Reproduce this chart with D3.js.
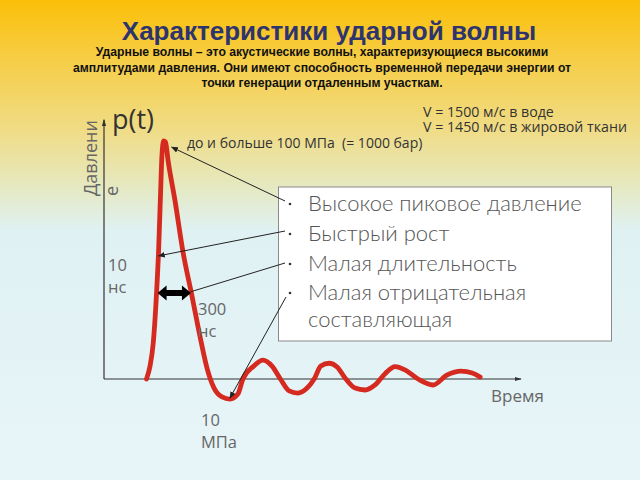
<!DOCTYPE html>
<html>
<head>
<meta charset="utf-8">
<script src="https://cdn.jsdelivr.net/npm/d3@7"></script>
<style>
  body { margin: 0; }
  svg { display: block; }
</style>
</head>
<body>
<div id="chart"></div>
<script>
// Chart content
var titleText = "Характеристики ударной волны";
var subtitleLines = [
  "Ударные волны – это акустические волны, характеризующиеся высокими",
  "амплитудами давления. Они имеют способность временной передачи энергии от",
  "точки генерации отдаленным участкам."
];
var bulletItems = [
  ["Высокое пиковое давление"],
  ["Быстрый рост"],
  ["Малая длительность"],
  ["Малая отрицательная", "составляющая"]
];
var speedLines = ["V = 1500 м/с в воде", "V = 1450 м/с в жировой ткани"];

// Pressure pulse p(t) (arbitrary units, peak = 100)
var timeValues = [10.2, 11.0, 11.8, 12.6, 13.1, 13.55, 13.9, 14.3, 14.75, 15.35, 17.0, 19.0, 21.0, 23.0, 24.7, 26.4, 28.3, 30.2,
                  32.1, 33.3, 35.9, 38.1, 40.3, 42.3, 44.4, 46.5, 48.7, 50.4, 52.0, 54.0, 55.9, 58.0, 60.2, 62.6,
                  65.0, 67.4, 69.8, 72.2, 75.3, 78.9, 82.3, 85.6, 88.3, 90.2];
var pressureValues = [0, 5.1, 14.9, 35.9, 54, 77, 93.7, 99.6, 99.2, 91.6, 74.9, 52.6, 35.6, 18, 4.6, -3.8, -7.5, -8.4,
                      -6.3, 0, 5.4, 7.9, 5.4, 0, -5, -5.9, -3.8, 0, 5.4, 6.6, 5, 0, -3.8, -4.6,
                      -2.5, 2.2, 5.2, 3.8, 0, -2.5, 1.7, 3.3, 2.5, 0.8];

var width = 640, height = 480;

var svg = d3.select("#chart")
  .append("svg")
  .attr("width", width)
  .attr("height", height);

// Background gradient (orange-yellow top to light blue bottom)
var defs = svg.append("defs");
var grad = defs.append("linearGradient")
  .attr("id", "bg")
  .attr("x1", 0).attr("y1", 0).attr("x2", 0).attr("y2", 1);
[[0, "#fbbf08"], [0.12, "#f6cd44"], [0.27, "#f0dc86"], [0.38, "#e6e8bc"], [0.48, "#dff1f3"], [1, "#e8f5f8"]]
  .forEach(function(s) {
    grad.append("stop").attr("offset", s[0]).attr("stop-color", s[1]);
  });
svg.append("rect").attr("width", width).attr("height", height).attr("fill", "url(#bg)");

// arrow markers
defs.append("marker")
  .attr("id", "thinArrow")
  .attr("viewBox", "0 0 10 10")
  .attr("refX", 9).attr("refY", 5)
  .attr("markerWidth", 7).attr("markerHeight", 7)
  .attr("markerUnits", "userSpaceOnUse")
  .attr("orient", "auto")
  .append("path").attr("d", "M0,1 L10,5 L0,9 Z").attr("fill", "#222");

defs.append("marker")
  .attr("id", "axisArrow")
  .attr("viewBox", "0 0 10 10")
  .attr("refX", 9).attr("refY", 5)
  .attr("markerWidth", 7).attr("markerHeight", 7)
  .attr("markerUnits", "userSpaceOnUse")
  .attr("orient", "auto")
  .append("path").attr("d", "M0,2 L10,5 L0,8 Z").attr("fill", "#333");

// Title + subtitle
svg.append("text")
  .attr("x", 329)
  .attr("y", 40)
  .attr("text-anchor", "middle")
  .style("font", "bold 26px 'Liberation Sans', Arial, sans-serif")
  .style("fill", "#2d346e")
  .text(titleText);

svg.selectAll(".sub")
  .data(subtitleLines)
  .enter().append("text")
  .attr("class", "sub")
  .attr("x", 322)
  .attr("y", function(d, i) { return 56 + i * 15.5; })
  .attr("text-anchor", "middle")
  .style("font", "bold 12.2px 'Liberation Sans', Arial, sans-serif")
  .style("fill", "#111")
  .text(function(d) { return d; });

// Scales
var x = d3.scaleLinear().domain([0, 100]).range([104, 521]);
var y = d3.scaleLinear().domain([0, 100]).range([379, 140]);

var labelFont = "'Open Sans', 'Noto Sans', sans-serif";
var boxFont = "Lato, 'Open Sans', sans-serif";

// Axes (arrows only, no ticks)
svg.append("line")
  .attr("x1", x(0)).attr("y1", y(0))
  .attr("x2", x(0)).attr("y2", y(108.5))
  .attr("stroke", "#333").attr("stroke-width", 1.2)
  .attr("marker-end", "url(#axisArrow)");
svg.append("line")
  .attr("x1", x(0)).attr("y1", y(0))
  .attr("x2", x(100)).attr("y2", y(0))
  .attr("stroke", "#333").attr("stroke-width", 1.2)
  .attr("marker-end", "url(#axisArrow)");

// Pulse curve
var pts = timeValues.map(function(t, i) { return { t: t, p: pressureValues[i] }; });
var line = d3.line()
  .x(function(d) { return x(d.t); })
  .y(function(d) { return y(d.p); })
  .curve(d3.curveMonotoneX);

svg.append("path")
  .datum(pts)
  .attr("d", line)
  .attr("fill", "none")
  .attr("stroke", "#d52a1f")
  .attr("stroke-width", 4.8)
  .attr("stroke-linejoin", "round")
  .attr("stroke-linecap", "round");

// axis labels
svg.append("text")
  .attr("x", 112).attr("y", 129)
  .style("font", "27px " + labelFont)
  .style("fill", "#333")
  .text("p(t)");

var yLab = svg.append("text")
  .attr("transform", "translate(97,196) rotate(-90)")
  .style("font", "18px " + labelFont)
  .style("fill", "#666");
yLab.append("tspan").attr("x", 0).attr("dy", 0).text("Давлени");
yLab.append("tspan").attr("x", 0).attr("dy", 21).text("е");

svg.append("text")
  .attr("x", 491).attr("y", 402)
  .style("font", "17px " + labelFont)
  .style("fill", "#666")
  .text("Время");

// small two-line labels
function twoLine(xp, yp, a, b) {
  var t = svg.append("text")
    .attr("x", xp).attr("y", yp)
    .style("font", "16.5px " + labelFont)
    .style("fill", "#666");
  t.append("tspan").attr("x", xp).text(a);
  t.append("tspan").attr("x", xp).attr("dy", 22).text(b);
}
twoLine(108, 271, "10", "нс");
twoLine(198, 315, "300", "нс");
twoLine(201, 426, "10", "МПа");

// Top annotations
svg.append("text")
  .attr("x", 187).attr("y", 148)
  .attr("xml:space", "preserve")
  .style("white-space", "pre")
  .style("font", "14px " + labelFont)
  .style("fill", "#333")
  .text("до и больше 100 МПа  (= 1000 бар)");

svg.selectAll(".speed")
  .data(speedLines)
  .enter().append("text")
  .attr("class", "speed")
  .attr("x", 423)
  .attr("y", function(d, i) { return 117 + i * 15; })
  .style("font", "14.2px " + labelFont)
  .style("fill", "#333")
  .text(function(d) { return d; });

// Bullet box
svg.append("rect")
  .attr("x", 278.5).attr("y", 187)
  .attr("width", 333).attr("height", 154)
  .attr("fill", "#fff")
  .attr("stroke", "#8a8a8a")
  .attr("stroke-width", 1);

var rowY = [211, 241, 271, 300];
bulletItems.forEach(function(item, i) {
  svg.append("circle")
    .attr("cx", 290).attr("cy", rowY[i] - 7)
    .attr("r", 1.3).attr("fill", "#333");
  item.forEach(function(s, j) {
    svg.append("text")
      .attr("x", 308).attr("y", rowY[i] + j * 27)
      .style("font", "300 22px " + boxFont)
      .style("fill", "#555")
      .text(s);
  });
});

// Pointer lines from bullets to curve features
var peak = pts[7], trough = pts[17];
var pointers = [
  { x1: 285, y1: 201, x2: x(peak.t) + 8, y2: y(97), arrow: true },
  { x1: 285, y1: 231, x2: x(13.05), y2: y(51.5), arrow: true },
  { x1: 285, y1: 263, x2: x(20.8), y2: y(36.5), arrow: false },
  { x1: 286, y1: 297, x2: x(trough.t), y2: y(trough.p) - 1, arrow: true }
];
pointers.forEach(function(d) {
  svg.append("line")
    .attr("x1", d.x1).attr("y1", d.y1)
    .attr("x2", d.x2).attr("y2", d.y2)
    .attr("stroke", "#222").attr("stroke-width", 1)
    .attr("marker-end", d.arrow ? "url(#thinArrow)" : null);
});

// Thick double-headed arrow (pulse width)
var ax1 = x(12.85), ax2 = x(20.85), ay = y(36);
svg.append("path")
  .attr("d", "M" + ax1 + "," + ay +
    " L" + (ax1 + 9) + "," + (ay - 7.5) +
    " L" + (ax1 + 9) + "," + (ay - 3) +
    " L" + (ax2 - 9) + "," + (ay - 3) +
    " L" + (ax2 - 9) + "," + (ay - 7.5) +
    " L" + ax2 + "," + ay +
    " L" + (ax2 - 9) + "," + (ay + 7.5) +
    " L" + (ax2 - 9) + "," + (ay + 3) +
    " L" + (ax1 + 9) + "," + (ay + 3) +
    " L" + (ax1 + 9) + "," + (ay + 7.5) + " Z")
  .attr("fill", "#000");
</script>
</body>
</html>
